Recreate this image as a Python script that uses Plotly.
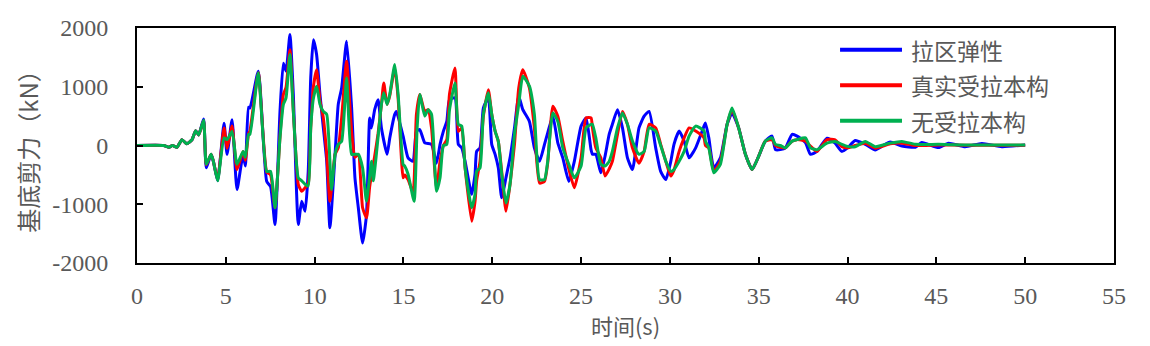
import plotly.graph_objects as go

# ---- data ----
t_blue = [0, 1.5, 1.8, 2.0, 2.25, 2.53, 2.8, 3.1, 3.3, 3.47, 3.75, 3.9, 4.17, 4.3, 4.54, 4.9, 5.07, 5.35, 5.63, 5.97, 6.1, 6.28,
          6.36, 6.83, 7.3, 7.52, 7.77, 8.05, 8.24, 8.39, 8.61, 8.8, 9.08, 9.27, 9.46, 9.64, 9.78, 9.93, 10.11, 10.3, 10.49, 10.68, 10.86, 11.15, 11.33, 11.52, 11.8, 12.08, 12.27, 12.46, 12.7,
          12.92, 13.1, 13.2, 13.38, 13.57, 13.76, 14.08, 14.23, 14.51, 14.6, 14.98, 15.26, 15.54, 15.73, 15.92, 16.2, 16.58, 16.86, 17.06, 17.25, 17.44, 17.59, 17.9, 18.09, 18.28, 18.47, 18.84,
          19.03, 19.12, 19.31, 19.5, 19.78, 19.97, 20.16, 20.34, 20.53, 20.77, 21.0, 21.25, 21.49, 21.72, 22.09, 22.37, 22.66, 22.94, 23.12, 23.41, 23.69, 23.97, 24.31, 24.62, 25.0, 25.28, 25.56,
          25.64, 25.83, 26.11, 26.35, 26.58, 26.76, 27.05, 27.33, 27.61, 27.89, 28.26, 28.55, 28.83, 29.2, 29.48, 29.77, 30.05, 30.23, 30.52, 30.8, 31.08, 31.45, 31.92,
          32.0, 32.19, 32.47, 32.84, 33.22, 33.5, 33.87, 34.25, 34.63, 35.0, 35.37, 35.75, 35.94, 36.22, 36.5, 36.88, 37.16, 37.63, 37.91, 38.28,
          38.84, 39.3, 39.68, 40.0, 40.43, 41.0, 41.56, 42.0, 42.4, 43.06, 43.81, 44.18, 45.12, 45.68, 46.62, 47.56, 48.69, 50.0]
v_blue = [0, 0, -30, 0, -30, 100, 30, 100, 250, 180, 450, -380, -150, -270, -600, 380, -150, 440, -750, -150, -350, 650,
          640, 1265, -610, -700, -1345, 580, 1400, 1265, 1890, 870, -1345, -950, -1120, -440, 1150, 1800, 1550, 870, 300, -270, -1400, -150, 700, 980, 1775, 650, -550, -1060, -1660,
          -1175, 470, 300, 610, 780, 300, -150, 130, 530, 580, 160, -210, -270, 245, 270, 45, 20, -300, 20, 245, 410, 780, 810, 20, -40, -270, -830,
          -490, -100, -40, 640, 810, 20, -150, -380, -890, -550, -210, 300, 840, 610, 410, -40, -270, 20, 215, 500, 45, -210, -610, -270, 330, 470, -70,
          -150, -150, -465, -180, 190, 360, 610, 300, -210, -410, 300, 500, 580, -40, -440, -580, -270, 20, 245, 75, -210, -40, 330,
          385, 130, -380, -210, 360, 550, 300, -150, -410, -180, 75, 160, -70, -70, -40, 190, 160, 50, -150, -100,
          125, 40, -100, -40, 85, 20, -75, 0, 60, -10, -30, 50, -35, 40, -20, 35, -20, 10]

t_red = [0, 1.5, 1.8, 2.0, 2.25, 2.53, 2.8, 3.1, 3.3, 3.47, 3.75, 3.9, 4.17, 4.3, 4.54, 4.9, 5.07, 5.35, 5.63, 5.97, 6.1, 6.28,
         6.36, 6.83, 7.3, 7.52, 7.77, 8.05, 8.24, 8.39, 8.61, 8.8, 9.08, 9.27, 9.46, 9.64, 9.78, 9.93, 10.11, 10.3, 10.49, 10.68, 10.86, 11.15, 11.33, 11.52, 11.8, 12.08, 12.27, 12.46, 12.7,
         12.92, 13.1, 13.38, 13.57, 13.76, 13.89, 14.08, 14.23, 14.51, 14.7, 14.98, 15.07, 15.26, 15.54, 15.73, 15.92, 16.2, 16.39, 16.58, 16.86, 17.06, 17.25, 17.44, 17.59, 17.9, 18.09, 18.28, 18.47, 18.84,
         19.03, 19.12, 19.31, 19.5, 19.78, 19.97, 20.16, 20.34, 20.53, 20.77, 21.0, 21.25, 21.49, 21.72, 22.09, 22.37, 22.66, 22.94, 23.12, 23.41, 23.69, 23.97, 24.31, 24.62, 25.0, 25.28, 25.56,
         25.64, 25.83, 26.11, 26.35, 26.58, 26.76, 27.05, 27.33, 27.61, 27.89, 28.26, 28.55, 28.83, 29.2, 29.48, 29.77, 30.05, 30.23, 30.52, 30.8, 31.08, 31.45, 31.92,
         32.0, 32.19, 32.47, 32.84, 33.22, 33.5, 33.87, 34.25, 34.63, 35.0, 35.37, 35.75, 35.94, 36.22, 36.5, 36.88, 37.16, 37.63, 37.91, 38.28,
         38.84, 39.3, 39.68, 40.0, 40.43, 41.0, 41.56, 42.4, 43.06, 43.81, 45.12, 46.62, 48.69, 50.0]
v_red = [0, 0, -30, 0, -30, 100, 30, 100, 250, 180, 420, -330, -150, -270, -580, 300, -50, 330, -410, -100, -250, 200,
         250, 1240, -450, -500, -1060, 150, 870, 990, 1630, 600, -660, -780, -720, -650, 300, 1000, 1290, 760, 470, -150, -950, -150, -40, 470, 1435, 240, -200, -150, -1060,
         -1230, -700, -180, 200, 700, 1065, 700, 850, 1320, 800, -550, -500, -580, -800, 530, 870, 580, 610, 300, -720, -270, 0, 100, 870, 1320, 240, 300, -380, -1290,
         -950, -600, -270, 500, 950, 530, 245, 70, -440, -1120, -660, 20, 980, 1290, 980, 300, -640, -610, -300, 670, 500, 70, -400, -720, -210, 470, 470,
         300, -40, -210, -520, -400, -270, 190, 580, 360, -40, -300, -100, 360, 300, 20, -270, -520, -420, -100, 130, 300, 245, 130,
         0, -40, -440, -270, 360, 610, 300, -150, -410, -180, 75, 100, 0, -30, -40, 75, 100, 75, -10, -100,
         100, 96, -20, -40, 0, 40, -45, 30, 40, 0, 10, 5, 5, 5]

t_green = [0, 1.5, 1.8, 2.0, 2.25, 2.53, 2.8, 3.1, 3.3, 3.47, 3.75, 3.9, 4.17, 4.3, 4.54, 4.9, 5.07, 5.35, 5.63, 5.97, 6.1, 6.28,
           6.36, 6.83, 7.3, 7.52, 7.77, 8.05, 8.24, 8.39, 8.61, 8.8, 9.08, 9.27, 9.46, 9.64, 9.78, 9.93, 10.11, 10.3, 10.49, 10.68, 10.95, 11.15, 11.33, 11.52, 11.8, 12.08, 12.27, 12.46, 12.7,
           12.92, 13.2, 13.3, 13.76, 13.89, 14.08, 14.23, 14.51, 14.7, 14.98, 15.07, 15.26, 15.6, 15.77, 15.92, 16.2, 16.39, 16.58, 16.86, 17.06, 17.25, 17.44, 17.59, 17.9, 18.09, 18.28, 18.47, 18.84,
           19.03, 19.12, 19.31, 19.5, 19.78, 19.97, 20.16, 20.34, 20.53, 20.77, 21.0, 21.25, 21.49, 21.72, 22.09, 22.37, 22.66, 22.94, 23.12, 23.41, 23.69, 23.97, 24.31, 24.62, 25.0, 25.28, 25.56,
           25.64, 25.83, 26.11, 26.35, 26.58, 26.76, 27.05, 27.33, 27.61, 27.89, 28.26, 28.55, 28.83, 29.2, 29.48, 29.77, 30.05, 30.23, 30.52, 30.8, 31.08, 31.45, 31.92,
           32.0, 32.19, 32.47, 32.84, 33.22, 33.5, 33.87, 34.25, 34.63, 35.0, 35.37, 35.75, 35.94, 36.22, 36.5, 36.88, 37.16, 37.63, 37.91, 38.28,
           38.84, 39.3, 39.68, 40.0, 40.43, 41.0, 41.56, 42.4, 43.06, 43.81, 45.12, 46.62, 48.69, 50.0]
v_green = [0, 0, -30, 0, -30, 100, 30, 100, 250, 180, 430, -320, -150, -270, -600, 130, 100, 240, -320, -100, -200, 190,
           190, 1240, -440, -440, -1060, 130, 700, 810, 1550, 580, -550, -600, -660, -690, 300, 800, 1010, 700, 580, 530, -750, -150, 20, 70, 1150, -150, -150, -150, -380,
           -950, -270, -600, 700, 900, 700, 870, 1380, 870, -320, -350, -490, -950, 300, 870, 500, 610, 530, -780, -550, 0, 20, 600, 1065, 360, 330, -380, -1060,
           -830, -440, -380, 530, 900, 530, 245, 70, -480, -980, -660, 190, 700, 1180, 1010, 530, -580, -580, -270, 555, 410, -40, -320, -550, -350, 300, 360,
           360, 130, -320, -350, -270, -100, 300, 555, 360, 75, -150, -100, 300, 245, 0, -270, -440, -410, -270, -100, 160, 330, 250,
           75, -40, -465, -320, 360, 640, 300, -150, -410, -180, 75, 130, 20, 0, -40, 75, 100, 130, -40, -70,
           40, 70, 20, -15, -20, 70, -20, 40, 70, 20, 20, 10, 10, 10]

names = ["拉区弹性", "真实受拉本构", "无受拉本构"]
colors = ["#0000FF", "#FF0000", "#00B050"]
x_ticks = [0, 5, 10, 15, 20, 25, 30, 35, 40, 45, 50, 55]
y_ticks = [-2000, -1000, 0, 1000, 2000]
y_ticktext = ["-2000", "-1000", "0", "1000", "2000"]

fig = go.Figure()
for t, v, n, c in zip([t_blue, t_red, t_green], [v_blue, v_red, v_green], names, colors):
    fig.add_trace(go.Scatter(x=t, y=v, mode="lines", name=n, showlegend=False,
                             line=dict(color=c, width=3, shape="spline", smoothing=0.5)))

# legend drawn in paper coordinates (longer sample lines as in the reference)
leg_rows = [0.907, 0.756, 0.605]
for n, c, yy in zip(names, colors, leg_rows):
    fig.add_shape(type="line", xref="paper", yref="paper", x0=0.7196, x1=0.7830, y0=yy, y1=yy,
                  line=dict(color=c, width=4))
    fig.add_annotation(xref="paper", yref="paper", x=0.790, y=yy, xanchor="left", yanchor="middle",
                       text=n, showarrow=False,
                       font=dict(family="Noto Sans CJK SC, sans-serif", size=23, color="#595959"))

tick_font = dict(family="Liberation Serif, Times New Roman, serif", size=24, color="#595959")
title_font = dict(family="Noto Sans CJK SC, sans-serif", size=22, color="#595959")

fig.update_layout(
    width=1150, height=346,
    margin=dict(l=137, r=36, t=28, b=83),
    paper_bgcolor="white", plot_bgcolor="white",
    showlegend=False,
    xaxis=dict(range=[0, 55], tickvals=x_ticks, ticks="inside", ticklen=6, tickwidth=1.5,
               tickcolor="black", showline=True, linecolor="black", linewidth=2, mirror=True,
               showgrid=False, zeroline=False, tickfont=tick_font, ticklabelstandoff=10,
               title=dict(text="时间(s)", font=title_font, standoff=8)),
    yaxis=dict(range=[-2000, 2000], tickvals=y_ticks, ticktext=y_ticktext, ticks="inside", ticklen=6,
               tickwidth=1.5, tickcolor="black", showline=True, linecolor="black", linewidth=2, mirror=True,
               showgrid=False, zeroline=False, tickfont=tick_font, ticklabelstandoff=22,
               title=dict(text="基底剪力（kN）", font=dict(family="Noto Sans CJK SC, sans-serif", size=24, color="#595959"), standoff=7)),
)

fig.write_html("out.html")
